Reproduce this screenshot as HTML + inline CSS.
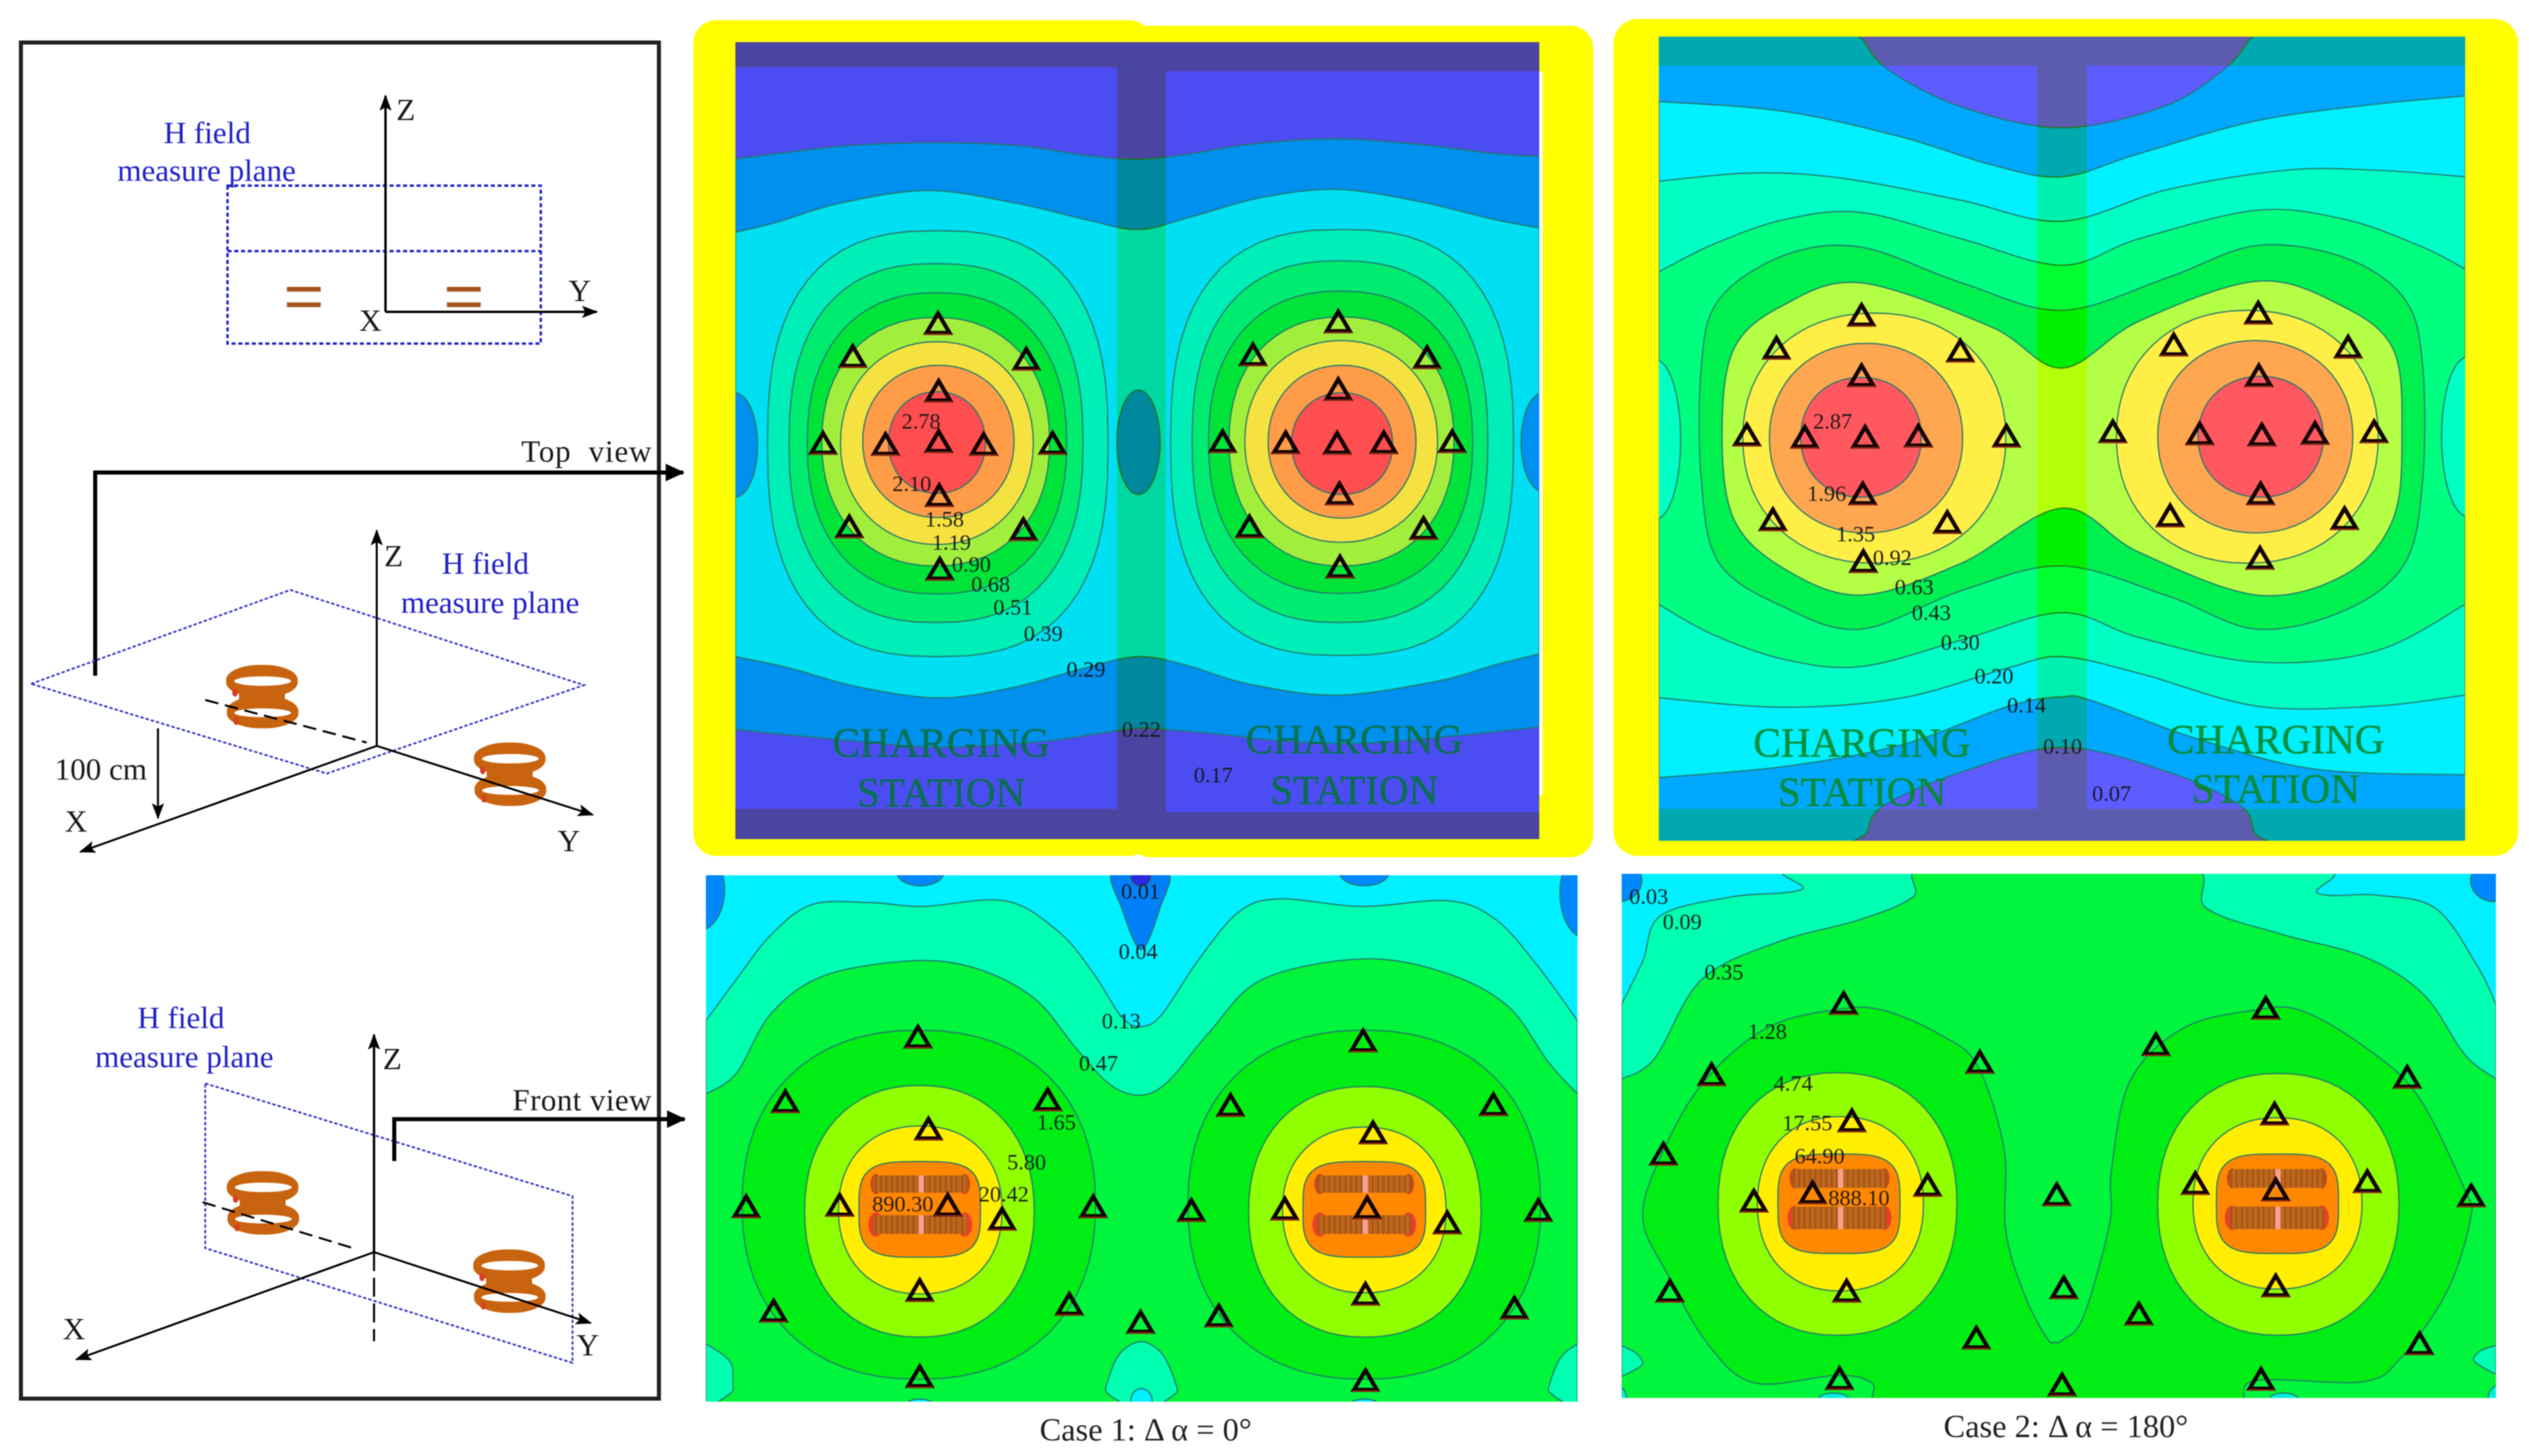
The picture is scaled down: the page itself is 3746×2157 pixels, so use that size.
<!DOCTYPE html>
<html lang="en">
<head>
<meta charset="utf-8">
<title>H field contour maps</title>
<style>
html,body{margin:0;padding:0;background:#fff;}
svg{display:block;filter:blur(0.9px);}
text{font-family:"Liberation Serif",serif;}
.lg{font-size:46px;fill:#1a1a1a;}
.bl{font-size:46px;fill:#2020c8;text-anchor:middle;}
.st{font-size:61px;text-anchor:middle;opacity:.95;stroke-width:.6;}
.cap{font-size:48px;fill:#222;text-anchor:middle;}
</style>
</head>
<body>
<svg id="figure" xmlns="http://www.w3.org/2000/svg" width="3746" height="2157" viewBox="0 0 3746 2157">
<defs>
<marker id="ah" markerUnits="userSpaceOnUse" markerWidth="24" markerHeight="20" refX="22" refY="10" orient="auto"><path d="M0 1 L24 10 L0 19 L5 10 Z" fill="#000"/></marker>
<marker id="ahb" markerUnits="userSpaceOnUse" markerWidth="28" markerHeight="26" refX="26" refY="13" orient="auto"><path d="M0 0 L28 13 L0 26 Z" fill="#000"/></marker>
<pattern id="hatch" patternUnits="userSpaceOnUse" width="8" height="8"><rect width="8" height="8" fill="#c0661a"/><rect width="2" height="8" fill="#96501c"/></pattern>
<g id="coil3d">
  <rect x="-53" y="-47" width="106" height="48" rx="50" ry="22" fill="#c8640f"/>
  <rect x="-52" y="-1" width="106" height="48" rx="50" ry="22" fill="#c8640f"/>
  <rect x="-34" y="-9" width="68" height="18" fill="#c8640f"/>
  <ellipse cx="1" cy="-23" rx="42" ry="7" fill="#fff"/>
  <ellipse cx="1" cy="24" rx="42" ry="6.5" fill="#fff"/>
  <ellipse cx="-40" cy="-6" rx="4" ry="6" fill="#d84020"/>
  <ellipse cx="-38" cy="36" rx="4" ry="6" fill="#d84020"/>
</g>
</defs>
<rect width="3746" height="2157" fill="#fff"/>

<g>
  <rect x="31" y="63" width="945" height="2009" fill="none" stroke="#222" stroke-width="6"/>
  <g>
    <rect x="337" y="275" width="464" height="234" fill="none" stroke="#2020c8" stroke-width="3.5" stroke-dasharray="6 4"/>
    <line x1="337" y1="372" x2="801" y2="372" stroke="#2020c8" stroke-width="3.5" stroke-dasharray="6 4"/>
    <line x1="571" y1="462" x2="571" y2="142" stroke="#000" stroke-width="3.5" marker-end="url(#ah)"/>
    <line x1="571" y1="462" x2="884" y2="462" stroke="#000" stroke-width="3.5" marker-end="url(#ah)"/>
    <text class="lg" x="587" y="178">Z</text>
    <text class="lg" x="842" y="446">Y</text>
    <text class="lg" x="532" y="490">X</text>
    <text class="bl" x="307" y="212">H field</text>
    <text class="bl" x="306" y="268">measure plane</text>
    <g fill="#a4541c"><rect x="425" y="425" width="50" height="7"/><rect x="425" y="448" width="50" height="7"/></g>
    <g fill="#a4541c"><rect x="662" y="425" width="50" height="7"/><rect x="662" y="448" width="50" height="7"/></g>
  </g>
  <g>
    <text class="lg" x="772" y="684" xml:space="preserve" textLength="193">Top  view</text>
    <polyline points="141,1001 141,700 1012,700" fill="none" stroke="#000" stroke-width="6" marker-end="url(#ahb)"/>
  </g>
  <g>
    <polygon points="46,1013 430,874 865,1015 484,1146" fill="none" stroke="#3434c4" stroke-width="2.6" stroke-dasharray="5 3"/>
    <use href="#coil3d" x="388" y="1032"/>
    <use href="#coil3d" x="755" y="1147"/>
    <line x1="558" y1="1105" x2="558" y2="786" stroke="#000" stroke-width="3" marker-end="url(#ah)"/>
    <line x1="558" y1="1105" x2="119" y2="1262" stroke="#000" stroke-width="3" marker-end="url(#ah)"/>
    <line x1="558" y1="1105" x2="878" y2="1207" stroke="#000" stroke-width="3" marker-end="url(#ah)"/>
    <text class="lg" x="569" y="839">Z</text>
    <text class="lg" x="96" y="1232">X</text>
    <text class="lg" x="826" y="1261">Y</text>
    <text class="bl" x="719" y="850">H field</text>
    <text class="bl" x="726" y="908">measure plane</text>
    <line x1="234" y1="1079" x2="234" y2="1212" stroke="#000" stroke-width="3" marker-end="url(#ah)"/>
    <text class="lg" x="81" y="1155">100 cm</text>
    <line x1="304" y1="1037" x2="543" y2="1100" stroke="#000" stroke-width="3" stroke-dasharray="20 10"/>
  </g>
  <g>
    <polygon points="304,1605 848,1772 848,2019 304,1849" fill="none" stroke="#3434c4" stroke-width="2.6" stroke-dasharray="5 3"/>
    <use href="#coil3d" x="389" y="1782"/>
    <use href="#coil3d" x="754" y="1898"/>
    <line x1="554" y1="1855" x2="554" y2="1533" stroke="#000" stroke-width="3.5" marker-end="url(#ah)"/>
    <line x1="554" y1="1855" x2="554" y2="1987" stroke="#000" stroke-width="3" stroke-dasharray="28 10"/>
    <line x1="554" y1="1855" x2="113" y2="2014" stroke="#000" stroke-width="3" marker-end="url(#ah)"/>
    <line x1="554" y1="1855" x2="875" y2="1960" stroke="#000" stroke-width="3" marker-end="url(#ah)"/>
    <text class="lg" x="567" y="1584">Z</text>
    <text class="lg" x="93" y="1984">X</text>
    <text class="lg" x="854" y="2008">Y</text>
    <text class="bl" x="268" y="1523">H field</text>
    <text class="bl" x="273" y="1581">measure plane</text>
    <line x1="300" y1="1781" x2="523" y2="1849" stroke="#000" stroke-width="3" stroke-dasharray="20 10"/>
    <text class="lg" x="759" y="1645" textLength="206">Front view</text>
    <polyline points="584,1720 584,1658 1014,1658" fill="none" stroke="#000" stroke-width="6" marker-end="url(#ahb)"/>
  </g>
</g>

<g fill="#ffff00">
  <rect x="1027" y="30" width="680" height="1238" rx="34"/>
  <rect x="1670" y="38" width="690" height="1232" rx="34"/>
  <rect x="2390" y="28" width="1340" height="1240" rx="36"/>
</g>

<g id="panelA"></g>
<rect x="2280" y="106" width="5" height="1072" fill="#fff"/>
<g id="panelB"></g>
<g id="panelC"></g>
<g id="panelD"></g>

<g>
  <text class="st" fill="#07704a" stroke="#07704a" x="1394" y="1121">CHARGING</text>
  <text class="st" fill="#07704a" stroke="#07704a" x="1394" y="1195">STATION</text>
  <text class="st" fill="#07704a" stroke="#07704a" x="2006" y="1116">CHARGING</text>
  <text class="st" fill="#07704a" stroke="#07704a" x="2006" y="1191">STATION</text>
  <text class="st" fill="#078a30" stroke="#078a30" x="2758" y="1121">CHARGING</text>
  <text class="st" fill="#078a30" stroke="#078a30" x="2758" y="1194">STATION</text>
  <text class="st" fill="#078a30" stroke="#078a30" x="3371" y="1116">CHARGING</text>
  <text class="st" fill="#078a30" stroke="#078a30" x="3371" y="1189">STATION</text>
</g>
<text class="cap" x="1697" y="2134">Case 1: Δ α = 0°</text>
<text class="cap" x="3060" y="2129">Case 2: Δ α = 180°</text>
</svg>

<script>
/* ---------- Panel A: top view, case 1 (field-grid units) ---------- */
const labelsA = ['2.78','2.10','1.58','1.19','0.90','0.68','0.51','0.39','0.29','0.22','0.17'];
const labelGridXA = [398,382,438,450,484,517,555,607,680,775,898];
const labelGridYA = [742,855,920,962,1002,1038,1080,1128,1193,1302,1385];
const sensorsXA = [427,281,578,230,337,428,505,623,428,429,275,573,430,1112,966,1264,914,1022,1110,1190,1307,1112,1114,960,1258,1115];
const sensorsYA = [565,625,630,783,785,780,785,783,688,878,935,940,1012,562,622,627,780,782,783,782,780,685,875,935,938,1008];
const blueTopA = [[80,265],[150,255],[280,240],[420,235],[560,240],[680,258],[770,265],[860,255],[960,238],[1100,228],[1250,238],[1380,255],[1456,260]];
const blueBottomA = [[1456,1298],[1350,1310],[1200,1325],[1110,1328],[1000,1322],[900,1310],[820,1303],[770,1300],[700,1310],[600,1325],[430,1335],[300,1325],[150,1310],[80,1302]];
const cyanTopA = [[80,398],[150,380],[260,345],[410,322],[560,345],[680,375],[770,393],[860,370],[980,335],[1110,320],[1250,342],[1380,375],[1456,390]];
const cyanBottomA = [[1456,1165],[1380,1185],[1280,1215],[1110,1240],[960,1220],[850,1185],[770,1170],[680,1190],[560,1225],[430,1245],[290,1225],[170,1190],[80,1170]];
const ovalsA = [[40,118,690,880],[733,807,685,875],[1425,1500,690,870]];
const leftPeakA = [[135,718,395,1170],[172,675,455,1108],[203,647,508,1056],[228,618,553,1005],[260,590,597,966],[298,557,640,917],[342,508,688,873]];
const rightPeakA = [[825,1412,393,1168],[862,1368,450,1108],[890,1342,505,1055],[925,1310,552,1005],[952,1282,595,962],[992,1245,640,918],[1032,1205,690,875]];
const shapeA = [2.6,2.45,2.3,2.2,2.1,2.1,2.1];

/* ---------- Panel B: top view, case 2 ---------- */
const labelsB = ['2.87','1.96','1.35','0.92','0.63','0.43','0.30','0.20','0.14','0.10','0.07'];
const labelGridXB = [382,372,421,483,520,549,598,655,710,771,854];
const labelGridYB = [742,873,947,990,1043,1090,1144,1205,1258,1333,1419];
const sensorsXB = [431,287,598,237,335,437,527,676,431,433,281,576,434,1102,959,1254,856,1003,1108,1198,1298,1103,1106,953,1248,1105];
const sensorsYB = [550,610,615,768,772,772,770,770,660,875,922,927,998,546,604,608,762,766,768,765,762,660,875,915,920,992];
const purpleTopB = [[422,0],[435,50],[480,105],[600,170],[770,208],[940,170],[1040,105],[1085,50],[1098,0]];
const purpleBottomB = [[1105,1540],[1095,1490],[1070,1440],[950,1380],[770,1335],[600,1380],[470,1440],[440,1490],[430,1540]];
const cyanTopB = [[88,160],[300,178],[500,225],[650,275],[770,297],[900,255],[1100,195],[1300,165],[1452,150]];
const cyanBottomB = [[1452,1385],[1200,1375],[1000,1320],[820,1250],[770,1243],[680,1260],[500,1330],[300,1370],[88,1390]];
const tealTopB = [[88,305],[250,290],[400,300],[600,340],[770,378],[950,320],[1150,285],[1300,285],[1452,297]];
const tealBottomB = [[1452,1240],[1300,1260],[1100,1260],[900,1200],[770,1170],[680,1190],[500,1245],[300,1262],[88,1245]];
const springTopB = [[88,470],[180,420],[300,375],[430,362],[600,410],[770,458],[900,410],[1100,358],[1250,375],[1380,425],[1452,465]];
const springBottomB = [[1452,1075],[1300,1160],[1100,1180],[900,1135],[770,1090],[600,1140],[430,1188],[300,1175],[180,1130],[88,1075]];
const edgeOvalsB = [[40,125,630,920],[1412,1500,625,915]];
const greenLobeB = [[770,540],[600,490],[430,425],[300,440],[190,520],[160,640],[160,850],[190,1000],[300,1080],[430,1120],[600,1050],[770,1005],[950,1060],[1100,1120],[1250,1085],[1350,1000],[1380,850],[1380,640],[1350,520],[1250,445],[1100,422],[950,480]];
const limeLobeB = [[770,645],[650,570],[430,490],[300,530],[215,610],[195,765],[215,920],[300,1010],[430,1058],[600,1000],[770,900],[900,980],[1100,1058],[1250,1020],[1330,920],[1345,765],[1330,610],[1240,530],[1100,487],[900,560]];
const leftPeakB = [[230,675,545,1000],[275,602,600,945],[328,532,662,880]];
const rightPeakB = [[862,1305,540,1000],[932,1262,595,945],[1000,1212,660,880]];
const shapeB = [2.15,2.1,2.1];

/* ---------- Panel C: front view, case 1 ---------- */
const labelsC = ['0.01','0.04','0.13','0.47','1.65','5.80','20.42','890.30'];
const labelGridXC = [762,758,729,690,618,567,528,355];
const labelGridYC = [55,215,400,513,670,776,862,888];
const sensorsXC = [381,154,603,87,247,432,525,681,399,384,134,640,384,762,1143,916,1366,849,1009,1150,1287,1443,1160,1147,896,1402,1147];
const sensorsYC = [445,617,612,897,893,893,930,897,690,1120,1175,1157,1350,1205,455,627,625,907,903,900,940,907,700,1130,1188,1167,1360];
const tealTopC = [[18,400],[70,290],[130,170],[200,90],[300,85],[390,95],[530,80],[620,160],[680,270],[730,390],[765,415],[800,380],[860,240],[930,110],[1000,75],[1140,95],[1290,80],[1370,130],[1440,250],[1510,400]];
const tealBottomC = [[1510,1460],[18,1460]];
const greenTopC = [[18,595],[70,540],[130,380],[220,280],[370,240],[480,260],[580,340],[650,470],[710,570],[763,598],[810,560],[880,430],[970,290],[1140,235],[1280,270],[1390,360],[1460,510],[1510,595]];
const greenBottomC = [[1510,1260],[1480,1300],[1460,1380],[1452,1460],[835,1460],[825,1380],[800,1290],[763,1255],[725,1290],[702,1380],[695,1460],[75,1460],[65,1380],[60,1310],[18,1260]];
const dropC = [[715,0],[730,100],[763,210],[795,100],[808,0]];
const blueSpotsC = [[345,425,-30,40],[1103,1187,-30,40],[-40,50,-60,160],[1480,1570,-60,180]];
const purpleSpotC = [745,780,-10,42];
const cyanSpotsC = [[745,782,1380,1450],[360,408,1408,1440],[1120,1170,1408,1440]];
const leftPeakC = [[80,685,425,1355],[187,580,572,1243],[245,525,680,1128],[280,488,775,1030]];
const rightPeakC = [[843,1447,425,1355],[947,1345,575,1243],[1005,1285,683,1125],[1040,1250,775,1030]];
const shapeC = [2.25,2.2,2.2,3.6];
const coilBarsXC = [[305,465],[1065,1225]];
const coilBarsYC = [[812,858],[918,968]];

/* ---------- Panel D: front view, case 2 ---------- */
const labelsD = ['0.03','0.09','0.35','1.28','4.74','17.55','64.90','888.10'];
const labelGridXD = [60,117,188,262,306,330,351,418];
const labelGridYD = [68,136,270,428,567,672,760,872];
const sensorsXD = [392,167,624,85,239,339,535,406,397,96,618,385,755,767,895,764,1111,924,1352,1461,991,1128,1284,1126,1128,1373,1103];
const sensorsYD = [355,545,512,757,882,860,840,668,1122,1122,1247,1355,865,1113,1183,1372,368,465,552,868,835,852,830,650,1108,1262,1357];
const tealTopD = [[14,355],[50,240],[80,120],[200,70],[320,50],[350,-20],[1160,-20],[1200,60],[1300,65],[1400,100],[1470,250],[1503,355]];
const tealBottomD = [[1503,1450],[14,1450]];
const greenTopD = [[14,555],[70,500],[150,290],[280,190],[420,130],[510,70],[548,-20],[965,-20],[1010,100],[1140,170],[1280,230],[1380,330],[1450,490],[1503,555]];
const greenBottomD = [[1503,1265],[1465,1300],[1450,1450],[60,1450],[50,1310],[14,1265]];
const peanutD = [[460,372],[380,370],[260,420],[150,570],[75,780],[50,930],[90,1070],[160,1260],[240,1365],[380,1345],[440,1365],[470,1440],[760,1450],[1045,1440],[1090,1360],[1275,1362],[1340,1300],[1420,1120],[1460,925],[1450,850],[1370,600],[1280,470],[1170,372],[1090,372],[970,420],[880,560],[848,800],[845,940],[800,1190],[765,1250],[752,1257],[738,1245],[700,1130],[668,960],[665,740],[620,520],[560,440]];
const blueSpotsD = [[-30,48,-30,82],[1460,1540,-30,82]];
const cyanSpotsD = [[350,400,1392,1420],[1118,1165,1392,1420],[-20,22,1370,1440],[1490,1530,1370,1440]];
const leftPeakD = [[178,585,538,1238],[245,528,655,1120],[280,488,755,1020]];
const rightPeakD = [[927,1338,540,1238],[987,1275,658,1115],[1027,1235,755,1020]];
const shapeD = [2.2,2.2,3.6];
const coilBarsXD = [[305,465],[1050,1210]];
const coilBarsYD = [[795,845],[895,955]];

/* ---------- Axis functions: field-grid units to figure coordinates ---------- */
const axisXA = u => 1020 + u / 1.1556, axisYA = v => 20 + v / 1.228;
const axisXB = u => 2380 + u / 1.142,  axisYB = v => 20 + v / 1.228;
const axisXC = u => 1030 + u / 1.1556, axisYC = v => 1290 + v / 1.799;
const axisXD = u => 2390 + u / 1.150,  axisYD = v => 1290 + v / 1.799;

const NS = 'http://www.w3.org/2000/svg';
const PURPLE='#4b4df2', BLUE='#0090ee', CYAN='#00e0f2', TEAL='#00eeb8', SPRING='#00ec70', GREEN='#00e43a', LIME='#a2ee3c', YELLOW='#f5e240', ORANGE='#ff9c48', RED='#ff4e50';
const LINE='#24786a';

function make(tag, attrs, parent){
  const n = document.createElementNS(NS, tag);
  for (const k in attrs) n.setAttribute(k, attrs[k]);
  parent.appendChild(n);
  return n;
}
function seg(pts, closed){
  let d = '';
  const n = pts.length;
  const at = i => closed ? pts[(i + n) % n] : pts[Math.max(0, Math.min(n - 1, i))];
  const last = closed ? n : n - 1;
  for (let i = 0; i < last; i++){
    const p0 = at(i-1), p1 = at(i), p2 = at(i+1), p3 = at(i+2);
    d += ' C' + (p1[0]+(p2[0]-p0[0])/6).toFixed(1) + ' ' + (p1[1]+(p2[1]-p0[1])/6).toFixed(1) + ' ' +
         (p2[0]-(p3[0]-p1[0])/6).toFixed(1) + ' ' + (p2[1]-(p3[1]-p1[1])/6).toFixed(1) + ' ' +
         p2[0].toFixed(1) + ' ' + p2[1].toFixed(1);
  }
  return d;
}
function project(pts, X, Y){ return pts.map(p => [X(p[0]), Y(p[1])]); }

function bandRegion(g, top, bottom, color, X, Y){
  const a = project(top, X, Y), b = project(bottom, X, Y);
  const d = 'M' + a[0][0] + ' ' + a[0][1] + seg(a, false) + ' L' + b[0][0] + ' ' + b[0][1] + seg(b, false) + ' Z';
  const p = make('path', {d: d, fill: color, stroke: LINE, 'stroke-width': 1.8}, g);
  
  
}
function closedRegion(g, pts, color, X, Y){
  const a = project(pts, X, Y);
  const d = 'M' + a[0][0] + ' ' + a[0][1] + seg(a, true) + ' Z';
  const p = make('path', {d: d, fill: color, stroke: LINE, 'stroke-width': 1.8}, g);
  
  
}
function peakRegion(g, ext, n, color, X, Y){
  const cx = (ext[0]+ext[1])/2, cy = (ext[2]+ext[3])/2, a = (ext[1]-ext[0])/2, b = (ext[3]-ext[2])/2;
  const pts = [];
  for (let i = 0; i < 64; i++){
    const t = i / 64 * Math.PI * 2, c = Math.cos(t), s = Math.sin(t);
    pts.push([X(cx + a*Math.sign(c)*Math.pow(Math.abs(c), 2/n)), Y(cy + b*Math.sign(s)*Math.pow(Math.abs(s), 2/n))]);
  }
  const d = 'M' + pts.map(p => p[0].toFixed(1) + ' ' + p[1].toFixed(1)).join(' L') + ' Z';
  const p = make('path', {d: d, fill: color, stroke: LINE, 'stroke-width': 1.8}, g);
  
  
}
function sensorMarks(parent, xs, ys, X, Y){
  const g = make('g', {}, parent);
  
  
  xs.forEach((u, i) => {
    const x = X(u), y = Y(ys[i]);
    const tri = make('polygon', {points: (x) + ',' + (y-16) + ' ' + (x+17) + ',' + (y+13) + ' ' + (x-17) + ',' + (y+13), fill: 'none', stroke: '#120202', 'stroke-width': 6}, g);
    
    
    const base = make('line', {x1: x-20, y1: y+15, x2: x+20, y2: y+15, stroke: '#8a2a14', 'stroke-width': 2.5}, g);
    
    
  });
}
function levelLabels(parent, labels, xs, ys, X, Y){
  const g = make('g', {}, parent);
  
  
  labels.forEach((s, i) => {
    const t = make('text', {x: X(xs[i]), y: Y(ys[i]) + 11, 'text-anchor': 'middle', 'font-size': 33, fill: '#141414', 'fill-opacity': .92}, g);
    t.textContent = s;
    
    
  });
}
function overlay(parent, rects, color, X, Y){
  rects.forEach(r => {
    const o = make('rect', {x: X(r[0]), y: Y(r[2]), width: X(r[1])-X(r[0]), height: Y(r[3])-Y(r[2]), fill: color, style: 'mix-blend-mode:difference'}, parent);
    
    
  });
}
function coils(parent, barsX, barsY, X, Y){
  barsX.forEach(bx => barsY.forEach((by, row) => {
    const g = make('g', {}, parent);
    
    
    [bx[0]+4, bx[1]-4].forEach(ex => {
      const e = make('ellipse', {cx: X(ex), cy: Y((by[0]+by[1])/2), rx: 8 + row*3, ry: 15 + row*3, fill: row ? '#e8402a' : '#c8481c'}, g);
      
      
    });
    const bar = make('rect', {x: X(bx[0]), y: Y(by[0]), width: X(bx[1])-X(bx[0]), height: Y(by[1])-Y(by[0]), fill: 'url(#hatch)'}, g);
    
    
    const m = make('rect', {x: X((bx[0]+bx[1])/2 - 3), y: Y(by[0]), width: 8, height: Y(by[1])-Y(by[0]), fill: '#f8a090'}, g);
    
    
  }));
}
function plotBase(id, clipId, left, right, top, bottom, bg, X, Y){
  const panel = document.getElementById(id);
  const clip = make('clipPath', {id: clipId}, panel);
  make('rect', {x: X(left), y: Y(top), width: X(right)-X(left), height: Y(bottom)-Y(top)}, clip);
  const g = make('g', {'clip-path': 'url(#' + clipId + ')'}, panel);
  
  
  const r = make('rect', {x: X(left), y: Y(top), width: X(right)-X(left), height: Y(bottom)-Y(top), fill: bg}, g);
  
  
  return {panel: panel, g: g};
}

/* Panel A */
(function(){
  const X = axisXA, Y = axisYA;
  const b = plotBase('panelA', 'clipA', 80, 1456, 52, 1502, PURPLE, X, Y);
  bandRegion(b.g, blueTopA, blueBottomA, BLUE, X, Y);
  bandRegion(b.g, cyanTopA, cyanBottomA, CYAN, X, Y);
  ovalsA.forEach(o => peakRegion(b.g, o, 2, BLUE, X, Y));
  const cols = [TEAL, SPRING, GREEN, LIME, YELLOW, ORANGE, RED];
  leftPeakA.forEach((e, i) => peakRegion(b.g, e, shapeA[i], cols[i], X, Y));
  rightPeakA.forEach((e, i) => peakRegion(b.g, e, shapeA[i], cols[i], X, Y));
  overlay(b.g, [[733,817,52,1502],[80,733,52,98],[817,1456,52,105],[80,733,1447,1502],[817,1456,1453,1502]], '#000850', X, Y);
  levelLabels(b.panel, labelsA, labelGridXA, labelGridYA, X, Y);
  sensorMarks(b.panel, sensorsXA, sensorsYA, X, Y);
})();

/* Panel B */
(function(){
  const X = axisXB, Y = axisYB;
  const b = plotBase('panelB', 'clipB', 88, 1452, 42, 1505, '#00a8ff', X, Y);
  closedRegion(b.g, purpleTopB, '#5c5cff', X, Y);
  closedRegion(b.g, purpleBottomB, '#5c5cff', X, Y);
  const bl = [cyanTopB, tealTopB, springTopB], bb = [cyanBottomB, tealBottomB, springBottomB];
  const cl = ['#00f0ff', '#00ffc4', '#00ff80'];
  bl.forEach((t, i) => bandRegion(b.g, t, bb[i], cl[i], X, Y));
  edgeOvalsB.forEach(o => peakRegion(b.g, o, 2, '#00ffc4', X, Y));
  closedRegion(b.g, greenLobeB, '#00f050', X, Y);
  closedRegion(b.g, limeLobeB, '#b4ff46', X, Y);
  const cols = ['#ffee46', '#ffa650', '#ff5860'];
  leftPeakB.forEach((e, i) => peakRegion(b.g, e, shapeB[i], cols[i], X, Y));
  rightPeakB.forEach((e, i) => peakRegion(b.g, e, shapeB[i], cols[i], X, Y));
  overlay(b.g, [[728,812,42,1505],[88,728,42,95],[812,1452,42,95],[88,728,1447,1505],[812,1452,1447,1505]], '#000050', X, Y);
  levelLabels(b.panel, labelsB, labelGridXB, labelGridYB, X, Y);
  sensorMarks(b.panel, sensorsXB, sensorsYB, X, Y);
})();

/* Panel C */
(function(){
  const X = axisXC, Y = axisYC;
  const b = plotBase('panelC', 'clipC', 18, 1510, 12, 1415, '#00f0ff', X, Y);
  blueSpotsC.forEach(o => peakRegion(b.g, o, 2, '#0088ff', X, Y));
  closedRegion(b.g, dropC, '#0080f8', X, Y);
  peakRegion(b.g, purpleSpotC, 2, '#2a2ae0', X, Y);
  bandRegion(b.g, tealTopC, tealBottomC, '#00ffb0', X, Y);
  bandRegion(b.g, greenTopC, greenBottomC, '#00f53c', X, Y);
  cyanSpotsC.forEach(o => peakRegion(b.g, o, 2, '#00f0ff', X, Y));
  const cols = ['#00ee14', '#90ff00', '#ffee00', '#ff8800'];
  leftPeakC.forEach((e, i) => peakRegion(b.g, e, shapeC[i], cols[i], X, Y));
  rightPeakC.forEach((e, i) => peakRegion(b.g, e, shapeC[i], cols[i], X, Y));
  coils(b.g, coilBarsXC, coilBarsYC, X, Y);
  levelLabels(b.panel, labelsC, labelGridXC, labelGridYC, X, Y);
  sensorMarks(b.panel, sensorsXC, sensorsYC, X, Y);
})();

/* Panel D */
(function(){
  const X = axisXD, Y = axisYD;
  const b = plotBase('panelD', 'clipD', 14, 1503, 8, 1405, '#00f0ff', X, Y);
  blueSpotsD.forEach(o => peakRegion(b.g, o, 2, '#0088ff', X, Y));
  bandRegion(b.g, tealTopD, tealBottomD, '#00ffb0', X, Y);
  bandRegion(b.g, greenTopD, greenBottomD, '#00f53c', X, Y);
  closedRegion(b.g, peanutD, '#00ee14', X, Y);
  cyanSpotsD.forEach(o => peakRegion(b.g, o, 2, '#00f0d8', X, Y));
  const cols = ['#90ff00', '#ffee00', '#ff8800'];
  leftPeakD.forEach((e, i) => peakRegion(b.g, e, shapeD[i], cols[i], X, Y));
  rightPeakD.forEach((e, i) => peakRegion(b.g, e, shapeD[i], cols[i], X, Y));
  coils(b.g, coilBarsXD, coilBarsYD, X, Y);
  levelLabels(b.panel, labelsD, labelGridXD, labelGridYD, X, Y);
  sensorMarks(b.panel, sensorsXD, sensorsYD, X, Y);
})();
</script>
</body>
</html>
